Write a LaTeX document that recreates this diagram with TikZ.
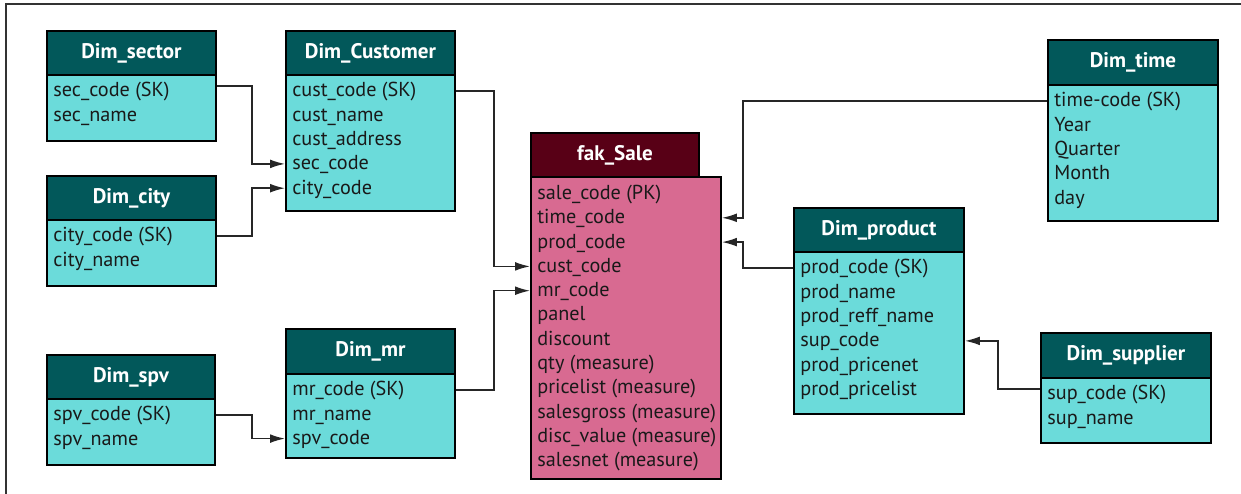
\documentclass[tikz,border=0pt]{standalone}
\usepackage{fontspec}
\setmainfont{PT Sans}
\usetikzlibrary{arrows.meta}

\definecolor{hdrteal}{RGB}{2,88,90}
\definecolor{bodycyan}{RGB}{107,219,218}
\definecolor{hdrwine}{RGB}{88,0,22}
\definecolor{bodypink}{RGB}{216,106,145}

\tikzset{
	hdr/.style={draw=black, line width=1.1pt, fill=hdrteal, text=white, anchor=north west,
		minimum height=0.88cm, inner sep=0, font=\fontsize{12}{14}\selectfont\bfseries},
	bdy/.style={draw=black, line width=1.1pt, fill=bodycyan, anchor=north west, inner sep=0},
	row/.style={anchor=west, inner sep=0, text height=9pt, text depth=2.2pt,
		font=\fontsize{11.5}{14}\selectfont, text=black!90},
	link/.style={-{Latex[length=8.5pt,width=5pt]}, line width=0.85pt, draw=black!85}
}

\begin{document}
\begin{tikzpicture}
	\useasboundingbox (0,0) rectangle (24.82,-9.88);
	%%% frame
	\draw[line width=1pt, black!80] (0.12,-9.88) -- (0.12,-0.08) -- (24.82,-0.08);
	%%% Dim_sector
	\node[bdy, minimum width=3.38cm, minimum height=1.32cm] (sectorb) at (0.92,-1.48) {};
	\node[hdr, minimum width=3.38cm] (sector) at (0.92,-0.60) {Dim\_sector};
	\foreach \t [count=\i] in {sec\_code (SK), sec\_name}
		\node[row] (sector\i) at (1.06,{-1.82-(\i-1)*0.486}) {\t};
	%%% Dim_city
	\node[bdy, minimum width=3.38cm, minimum height=1.32cm] (cityb) at (0.92,-4.38) {};
	\node[hdr, minimum width=3.38cm] (city) at (0.92,-3.50) {Dim\_city};
	\foreach \t [count=\i] in {city\_code (SK), city\_name}
		\node[row] (city\i) at (1.06,{-4.72-(\i-1)*0.486}) {\t};
	%%% Dim_spv
	\node[bdy, minimum width=3.36cm, minimum height=1.32cm] (spvb) at (0.92,-7.96) {};
	\node[hdr, minimum width=3.36cm] (spv) at (0.92,-7.08) {Dim\_spv};
	\foreach \t [count=\i] in {spv\_code (SK), spv\_name}
		\node[row] (spv\i) at (1.06,{-8.30-(\i-1)*0.486}) {\t};
	%%% Dim_Customer
	\node[bdy, minimum width=3.38cm, minimum height=2.72cm] (custb) at (5.70,-1.48) {};
	\node[hdr, minimum width=3.38cm] (cust) at (5.70,-0.60) {Dim\_Customer};
	\foreach \t [count=\i] in {cust\_code (SK), cust\_name, cust\_address, sec\_code, city\_code}
		\node[row] (cust\i) at (5.84,{-1.82-(\i-1)*0.486}) {\t};
	%%% Dim_mr
	\node[bdy, minimum width=3.38cm, minimum height=1.68cm] (mrb) at (5.70,-7.46) {};
	\node[hdr, minimum width=3.38cm, minimum height=0.90cm] (mr) at (5.70,-6.56) {Dim\_mr};
	\foreach \t [count=\i] in {mr\_code (SK), mr\_name, spv\_code}
		\node[row] (mr\i) at (5.84,{-7.80-(\i-1)*0.486}) {\t};
	%%% fak_Sale
	\node[bdy, fill=bodypink, minimum width=3.80cm, minimum height=6.04cm] (fakb) at (10.60,-3.52) {};
	\node[hdr, fill=hdrwine, minimum width=3.36cm] (fak) at (10.60,-2.64) {fak\_Sale};
	\foreach \t [count=\i] in {sale\_code (PK), time\_code, prod\_code, cust\_code, mr\_code, panel,
		discount, qty (measure), pricelist (measure), salesgross (measure), disc\_value (measure),
		salesnet (measure)}
		\node[row] (fak\i) at (10.74,{-3.87-(\i-1)*0.486}) {\t};
	%%% Dim_product
	\node[bdy, minimum width=3.40cm, minimum height=3.24cm] (prodb) at (15.86,-5.02) {};
	\node[hdr, minimum width=3.40cm] (prod) at (15.86,-4.14) {Dim\_product};
	\foreach \t [count=\i] in {prod\_code (SK), prod\_name, prod\_reff\_name, sup\_code,
		prod\_pricenet, prod\_pricelist}
		\node[row] (prod\i) at (16.00,{-5.36-(\i-1)*0.486}) {\t};
	%%% Dim_time
	\node[bdy, minimum width=3.40cm, minimum height=2.72cm] (timeb) at (20.94,-1.68) {};
	\node[hdr, minimum width=3.40cm, minimum height=0.90cm] (time) at (20.94,-0.78) {Dim\_time};
	\foreach \t [count=\i] in {time-code (SK), Year, Quarter, Month, day}
		\node[row] (time\i) at (21.08,{-2.02-(\i-1)*0.486}) {\t};
	%%% Dim_supplier
	\node[bdy, minimum width=3.40cm, minimum height=1.30cm] (supb) at (20.80,-7.54) {};
	\node[hdr, minimum width=3.40cm, minimum height=0.90cm] (sup) at (20.80,-6.64) {Dim\_supplier};
	\foreach \t [count=\i] in {sup\_code (SK), sup\_name}
		\node[row] (sup\i) at (20.94,{-7.88-(\i-1)*0.486}) {\t};
	%%% links
	\draw[link] ([yshift=0.1cm]sector1 -| sectorb.east) -- ++(0.70,0) |- (cust4 -| custb.west);
	\draw[link] (city1 -| cityb.east) -- ++(0.70,0) |- (cust5 -| custb.west);
	\draw[link] (spv1 -| spvb.east) -- ++(0.72,0) |- (mr3 -| mrb.west);
	\draw[link] (cust1 -| custb.east) -- ++(0.76,0) |- (fak4 -| fakb.west);
	\draw[link] (mr1 -| mrb.east) -- ++(0.76,0) |- (fak5 -| fakb.west);
	\draw[link] (time1 -| timeb.west) -- ++(-6.08,0) |- (fak2 -| fakb.east);
	\draw[link] (prod1 -| prodb.west) -- ++(-1.00,0) |- (fak3 -| fakb.east);
	\draw[link] ([yshift=0.1cm]sup1 -| supb.west) -- ++(-0.84,0) |- (prod4 -| prodb.east);
\end{tikzpicture}
\end{document}
